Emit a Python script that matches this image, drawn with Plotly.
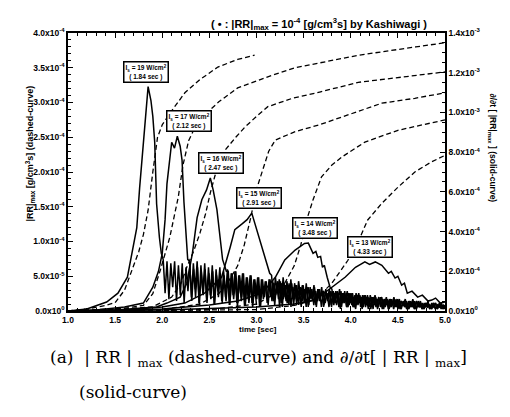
import numpy as np
import plotly.graph_objects as go

# ---------------- data ----------------
# dashed curves: |RR|max (left axis), values in units of 1e-4 g/cm^3 s
dash_A_t = [1.0, 1.2, 1.4, 1.5, 1.6, 1.68, 1.75, 1.8, 1.85, 1.9, 1.95, 2.0, 2.1, 2.24, 2.4, 2.59, 2.8, 2.98]
dash_A_v = [0.0, 0.03, 0.08, 0.12, 0.3, 0.59, 0.85, 1.1, 1.45, 2.0, 2.5, 2.68, 2.88, 3.14, 3.33, 3.51, 3.62, 3.68]

dash_B_t = [1.0, 1.4, 1.6, 1.8, 1.9, 1.98, 2.08, 2.17, 2.22, 2.28, 2.35, 2.45, 2.6, 2.8, 3.12, 3.41, 3.67, 4.08, 4.69, 5.0]
dash_B_v = [0.0, 0.02, 0.04, 0.08, 0.25, 0.59, 1.06, 1.64, 2.1, 2.45, 2.65, 2.82, 3.01, 3.21, 3.37, 3.50, 3.57, 3.68, 3.80, 3.86]

dash_C_t = [1.0, 1.5, 1.9, 2.1, 2.2, 2.26, 2.33, 2.40, 2.46, 2.51, 2.56, 2.62, 2.67, 2.78, 2.88, 3.0, 3.12, 3.38, 3.67, 4.08, 4.54, 5.0]
dash_C_v = [0.0, 0.02, 0.06, 0.2, 0.4, 0.63, 0.85, 1.12, 1.4, 1.7, 1.95, 2.15, 2.32, 2.5, 2.65, 2.8, 2.94, 3.06, 3.15, 3.29, 3.37, 3.44]

dash_D_t = [1.0, 2.0, 2.4, 2.6, 2.7, 2.8, 2.87, 2.94, 3.0, 3.06, 3.13, 3.2, 3.41, 3.67, 3.97, 4.33, 4.68, 5.0]
dash_D_v = [0.0, 0.02, 0.1, 0.25, 0.42, 0.65, 0.95, 1.35, 1.75, 2.0, 2.3, 2.46, 2.58, 2.68, 2.82, 2.99, 3.06, 3.14]

dash_E_t = [1.0, 2.5, 3.0, 3.2, 3.3, 3.4, 3.47, 3.53, 3.6, 3.69, 3.8, 3.91, 4.15, 4.5, 5.0]
dash_E_v = [0.0, 0.02, 0.1, 0.25, 0.4, 0.65, 0.95, 1.3, 1.6, 1.93, 2.1, 2.22, 2.43, 2.6, 2.75]

dash_F_t = [1.0, 3.0, 3.4, 3.62, 3.8, 3.97, 4.08, 4.18, 4.33, 4.5, 4.68, 4.85, 5.0]
dash_F_v = [0.0, 0.02, 0.08, 0.16, 0.4, 0.73, 1.0, 1.31, 1.55, 1.78, 2.0, 2.14, 2.24]

# solid curves: d/dt |RR|max (right axis), values in units of 1e-4
sol_A_t = [1.0, 1.2, 1.41, 1.53, 1.63, 1.68, 1.73, 1.76, 1.80, 1.83, 1.85, 1.88, 1.90, 1.92, 1.93, 1.94, 1.97, 1.99]
sol_A_v = [0.0, 0.1, 0.45, 0.9, 1.7, 2.9, 4.2, 6.2, 8.6, 10.0, 11.3, 10.6, 9.8, 8.5, 7.1, 5.4, 3.7, 2.9]
tail_A = [2.6, 0.9, 2.5, 0.6, 2.4, 1.2, 2.5, 0.5, 2.3, 0.8, 2.4, 0.4, 2.2, 1.0, 2.3, 0.5, 2.1, 0.7, 2.2, 0.3,
          2.0, 0.8, 2.1, 0.4, 1.9, 0.6, 2.0, 0.3, 1.8, 0.7, 1.9, 0.4, 1.8, 0.5, 1.7, 0.3, 1.8, 0.6, 1.6, 0.2,
          1.7, 0.5, 1.5, 0.3, 1.6, 0.4, 1.4, 0.2, 1.3, 0.3]

sol_B_t = [1.0, 1.3, 1.6, 1.80, 1.90, 1.96, 2.00, 2.03, 2.05, 2.07, 2.10, 2.13, 2.16, 2.19, 2.21, 2.23, 2.25, 2.27]
sol_B_v = [0.0, 0.05, 0.2, 0.4, 1.2, 2.0, 2.9, 4.6, 6.4, 7.4, 8.5, 8.2, 8.8, 8.3, 7.6, 5.5, 3.8, 2.6]
tail_B = [2.5, 0.7, 2.4, 1.1, 2.5, 0.4, 2.3, 0.9, 2.4, 0.5,
          2.2, 0.8, 2.3, 0.3, 2.1, 1.0, 2.2, 0.5, 2.0, 0.7,
          2.1, 0.3, 1.9, 0.8, 2.0, 0.4, 1.8, 0.9, 1.9, 0.3,
          1.7, 0.6, 1.8, 0.4, 1.6, 0.8, 1.7, 0.2, 1.6, 0.6,
          1.5, 0.4, 1.6, 0.7, 1.5, 0.3, 1.4, 0.6, 1.5, 0.2,
          1.4, 0.5, 1.3, 0.7, 1.4, 0.3, 1.3, 0.5, 1.2, 0.2,
          1.3, 0.6, 1.2, 0.3, 1.1, 0.5, 1.2, 0.2, 1.1, 0.6,
          1.0, 0.3, 1.1, 0.5, 1.0, 0.2, 0.9, 0.4, 1.0, 0.2,
          0.9, 0.5, 1.0, 0.2, 0.9, 0.4, 0.8, 0.2, 0.9, 0.3,
          0.8, 0.4, 0.7, 0.2, 0.8, 0.3, 0.7, 0.1, 0.8, 0.4,
          0.7, 0.2, 0.6, 0.3, 0.7, 0.1, 0.6, 0.3, 0.7, 0.2,
          0.6, 0.2, 0.5, 0.3, 0.6, 0.1, 0.5, 0.2, 0.6, 0.1,
          0.5, 0.2, 0.5, 0.1, 0.4, 0.2, 0.5, 0.1, 0.4, 0.2,
          0.4, 0.1, 0.4, 0.2, 0.3, 0.1]

sol_C_t = [1.0, 1.5, 1.94, 2.05, 2.19, 2.26, 2.32, 2.37, 2.42, 2.47, 2.51, 2.54, 2.58, 2.61, 2.64, 2.68]
sol_C_v = [0.0, 0.05, 0.2, 0.4, 0.7, 1.4, 2.9, 4.7, 5.6, 6.1, 6.7, 6.1, 5.1, 3.7, 2.6, 2.0]
tail_C = [2.0, 0.6, 1.9, 0.9, 2.0, 0.4, 1.8, 0.7, 1.9, 0.3,
          1.7, 0.8, 1.8, 0.4, 1.6, 0.6, 1.7, 0.2, 1.6, 0.7,
          1.5, 0.3, 1.6, 0.5, 1.4, 0.8, 1.5, 0.2, 1.4, 0.6,
          1.3, 0.4, 1.4, 0.2, 1.2, 0.6, 1.3, 0.3, 1.2, 0.5,
          1.1, 0.2, 1.2, 0.6, 1.1, 0.3, 1.0, 0.5, 1.1, 0.2,
          1.0, 0.4, 0.9, 0.2, 1.0, 0.5, 0.9, 0.3, 0.8, 0.1,
          0.9, 0.4, 0.8, 0.2, 0.9, 0.3, 0.7, 0.1, 0.8, 0.4,
          0.7, 0.2, 0.8, 0.3, 0.6, 0.1, 0.7, 0.3, 0.6, 0.2,
          0.7, 0.1, 0.6, 0.3, 0.5, 0.2, 0.6, 0.1, 0.5, 0.3,
          0.6, 0.1, 0.5, 0.2, 0.4, 0.1, 0.5, 0.2, 0.4, 0.1,
          0.5, 0.2, 0.4, 0.1, 0.4, 0.2, 0.3, 0.1, 0.4, 0.1,
          0.3, 0.2, 0.4, 0.1, 0.3]

sol_D_t = [1.0, 1.6, 2.0, 2.24, 2.45, 2.63, 2.72, 2.77, 2.85, 2.90, 2.95, 3.00, 3.06, 3.11, 3.14]
sol_D_v = [0.0, 0.05, 0.2, 0.4, 0.9, 1.7, 3.2, 4.1, 4.4, 4.6, 4.93, 4.1, 3.2, 2.4, 1.9]
tail_D = [1.8, 0.5, 1.7, 0.9, 1.6, 0.4, 1.7, 0.7, 1.5, 0.3,
          1.6, 0.6, 1.4, 0.3, 1.5, 0.8, 1.3, 0.4, 1.4, 0.2,
          1.2, 0.6, 1.3, 0.3, 1.1, 0.5, 1.2, 0.2, 1.0, 0.6,
          1.1, 0.3, 1.0, 0.5, 0.9, 0.2, 1.0, 0.4, 0.9, 0.2,
          0.8, 0.5, 0.9, 0.2, 0.8, 0.4, 0.7, 0.1, 0.8, 0.3,
          0.7, 0.2, 0.6, 0.4, 0.7, 0.1, 0.6, 0.3, 0.5, 0.2,
          0.6, 0.1, 0.5, 0.3, 0.6, 0.2, 0.5, 0.1, 0.4, 0.2,
          0.5, 0.1, 0.4, 0.2, 0.5, 0.1, 0.4, 0.2, 0.3, 0.1,
          0.4, 0.2, 0.3, 0.1, 0.4, 0.1, 0.3, 0.2, 0.3, 0.1,
          0.3]

sol_E_t = [1.0, 2.0, 2.5, 2.8, 3.06, 3.2, 3.3, 3.41, 3.51, 3.55, 3.60, 3.63, 3.65, 3.68, 3.70, 3.72, 3.75, 3.78]
sol_E_v = [0.0, 0.1, 0.3, 0.5, 0.9, 1.7, 2.57, 3.07, 3.4, 3.42, 2.9, 3.0, 2.7, 2.75, 2.2, 2.3, 1.7, 1.2]
tail_E = [1.1, 0.3, 1.0, 0.6, 1.1, 0.2, 0.9, 0.5, 1.0, 0.3,
          0.9, 0.2, 0.8, 0.5, 0.9, 0.2, 0.8, 0.4, 0.7, 0.1,
          0.8, 0.4, 0.7, 0.2, 0.6, 0.4, 0.7, 0.1, 0.6, 0.3,
          0.6, 0.2, 0.5, 0.3, 0.6, 0.1, 0.5, 0.3, 0.4, 0.1,
          0.5, 0.2, 0.4, 0.1, 0.5, 0.2, 0.4, 0.1, 0.3, 0.2,
          0.4, 0.1, 0.3, 0.2, 0.4, 0.1, 0.3, 0.1, 0.3, 0.1]

sol_F_t = [1.0, 2.0, 3.0, 3.4, 3.62, 3.8, 3.94, 4.05, 4.15, 4.2, 4.26, 4.33, 4.40, 4.43, 4.47, 4.50,
           4.54, 4.57, 4.60, 4.65, 4.71, 4.76, 4.82, 4.86, 4.90, 4.95, 5.0]
sol_F_v = [0.0, 0.05, 0.2, 0.35, 0.55, 1.2, 1.7, 2.2, 2.47, 2.35, 2.47, 2.3, 1.9, 2.0, 1.66, 1.75,
           1.3, 1.4, 0.9, 1.0, 0.7, 0.8, 0.5, 0.55, 0.65, 0.4, 0.45]

tail_end = {"A": 3.0, "B": 5.0, "C": 5.0, "D": 5.0, "E": 5.0}

powers_I = [19, 17, 16, 15, 14, 13]
ign_times = ["1.84", "2.12", "2.47", "2.91", "3.48", "4.33"]

left_tickvals = [0, 0.5, 1.0, 1.5, 2.0, 2.5, 3.0, 3.5, 4.0]
left_ticktext = ["0.0x10<sup>0</sup>", "5.0x10<sup>-5</sup>", "1.0x10<sup>-4</sup>", "1.5x10<sup>-4</sup>",
                 "2.0x10<sup>-4</sup>", "2.5x10<sup>-4</sup>", "3.0x10<sup>-4</sup>", "3.5x10<sup>-4</sup>",
                 "4.0x10<sup>-4</sup>"]
right_tickvals = [0, 2, 4, 6, 8, 10, 12, 14]
right_ticktext = ["0.0x10<sup>0</sup>", "2.0x10<sup>-4</sup>", "4.0x10<sup>-4</sup>", "6.0x10<sup>-4</sup>",
                  "8.0x10<sup>-4</sup>", "1.0x10<sup>-3</sup>", "1.2x10<sup>-3</sup>", "1.4x10<sup>-3</sup>"]
x_tickvals = [1.0, 1.5, 2.0, 2.5, 3.0, 3.5, 4.0, 4.5, 5.0]
x_ticktext = ["1.0", "1.5", "2.0", "2.5", "3.0", "3.5", "4.0", "4.5", "5.0"]

SCALE = 1e-4

# ---------------- figure ----------------
fig = go.Figure()

dashed = [(dash_A_t, dash_A_v), (dash_B_t, dash_B_v), (dash_C_t, dash_C_v),
          (dash_D_t, dash_D_v), (dash_E_t, dash_E_v), (dash_F_t, dash_F_v)]
for t, v in dashed:
    fig.add_trace(go.Scatter(x=t, y=[a * SCALE for a in v], mode="lines",
                             line=dict(color="black", width=1.3, dash="5px,3px"),
                             yaxis="y", showlegend=False, hoverinfo="skip"))

solids = []
for key, t, v, tail in [("A", sol_A_t, sol_A_v, tail_A), ("B", sol_B_t, sol_B_v, tail_B),
                        ("C", sol_C_t, sol_C_v, tail_C), ("D", sol_D_t, sol_D_v, tail_D),
                        ("E", sol_E_t, sol_E_v, tail_E)]:
    start = t[-1] + 0.02
    tt = list(t) + list(np.linspace(start, tail_end[key], len(tail)))
    vv = list(v) + list(tail)
    solids.append((tt, vv, t, v))
solids.append((sol_F_t, sol_F_v, sol_F_t, sol_F_v))

for tt, vv, _, _ in solids:
    fig.add_trace(go.Scatter(x=tt, y=[a * SCALE for a in vv], mode="lines",
                             line=dict(color="black", width=1.5),
                             yaxis="y2", showlegend=False, hoverinfo="skip"))

FONT = "Liberation Sans, Arial, sans-serif"
xshifts = [-2, 12, 11, 7, 7, 5]
annotations = []
for i, (_, _, t, v) in enumerate(solids):
    k = int(np.argmax(v))
    annotations.append(dict(
        x=t[k], y=v[k] * SCALE, xref="x", yref="y2",
        text=f"I<sub>s</sub> = {powers_I[i]} W/cm<sup>2</sup><br>( {ign_times[i]} sec )",
        showarrow=False, yanchor="bottom", xanchor="center", yshift=4, xshift=xshifts[i],
        font=dict(family=FONT, size=6.5, color="black", weight="bold"),
        bordercolor="black", borderwidth=1.5, borderpad=1, bgcolor="white"))

annotations += [
    dict(x=0.666, y=1.068, xref="paper", yref="paper", showarrow=False,
         text="( \u2022 : |RR|<sub>max</sub> = 10<sup>-4</sup> [g/cm<sup>3</sup>s] by Kashiwagi )",
         font=dict(family=FONT, size=11, color="black", weight="bold")),
    dict(x=-0.122, y=0.565, xref="paper", yref="paper", showarrow=False, textangle=-90,
         text="|RR|<sub>max</sub> [g/cm<sup>3</sup>s] (dashed-curve)",
         font=dict(family=FONT, size=9, color="black", weight="bold")),
    dict(x=1.146, y=0.586, xref="paper", yref="paper", showarrow=False, textangle=90,
         text="\u2202/\u2202t [ |RR|<sub>max</sub> ] (solid-curve)",
         font=dict(family=FONT, size=8.5, color="black", weight="bold")),
    dict(x=0.504, y=-0.09, xref="paper", yref="paper", showarrow=False,
         text="time [sec]", font=dict(family=FONT, size=8, color="black", weight="bold")),
    dict(x=-0.053, y=-0.219, xref="paper", yref="paper", showarrow=False, xanchor="left",
         text="(a)  | RR | <sub>max</sub> (dashed-curve) and \u2202/\u2202t[ | RR | <sub>max</sub>]",
         font=dict(family="DejaVu Serif, serif", size=17, color="black")),
    dict(x=0.024, y=-0.334, xref="paper", yref="paper", showarrow=False, xanchor="left",
         text="(solid-curve)",
         font=dict(family="DejaVu Serif, serif", size=17, color="black")),
]

tickfont = dict(family=FONT, size=8.5, color="black", weight="bold")
fig.update_layout(
    width=510, height=417,
    margin=dict(l=68, r=65, t=33, b=106),
    paper_bgcolor="white", plot_bgcolor="white",
    showlegend=False,
    annotations=annotations,
    xaxis=dict(range=[1.0, 5.0], tickvals=x_tickvals, ticktext=x_ticktext,
               ticks="inside", ticklen=5, tickwidth=1, tickcolor="black",
               minor=dict(ticks="inside", dtick=0.1, ticklen=3, tickcolor="black"),
               showline=True, linecolor="black", linewidth=1.5, mirror="ticks",
               showgrid=False, zeroline=False, tickfont=tickfont),
    yaxis=dict(range=[0, 4e-4], tickvals=[a * SCALE for a in left_tickvals], ticktext=left_ticktext,
               ticks="inside", ticklen=5, tickwidth=1, tickcolor="black",
               minor=dict(ticks="inside", dtick=0.1e-4, ticklen=3, tickcolor="black"),
               showline=True, linecolor="black", linewidth=1.5,
               showgrid=False, zeroline=False, tickfont=tickfont),
    yaxis2=dict(range=[0, 14e-4], tickvals=[a * SCALE for a in right_tickvals], ticktext=right_ticktext,
                overlaying="y", side="right",
                ticks="inside", ticklen=5, tickwidth=1, tickcolor="black",
                minor=dict(ticks="inside", dtick=0.5e-4, ticklen=3, tickcolor="black"),
                showline=True, linecolor="black", linewidth=1.5,
                showgrid=False, zeroline=False, tickfont=tickfont),
)

fig.write_html("out.html")
